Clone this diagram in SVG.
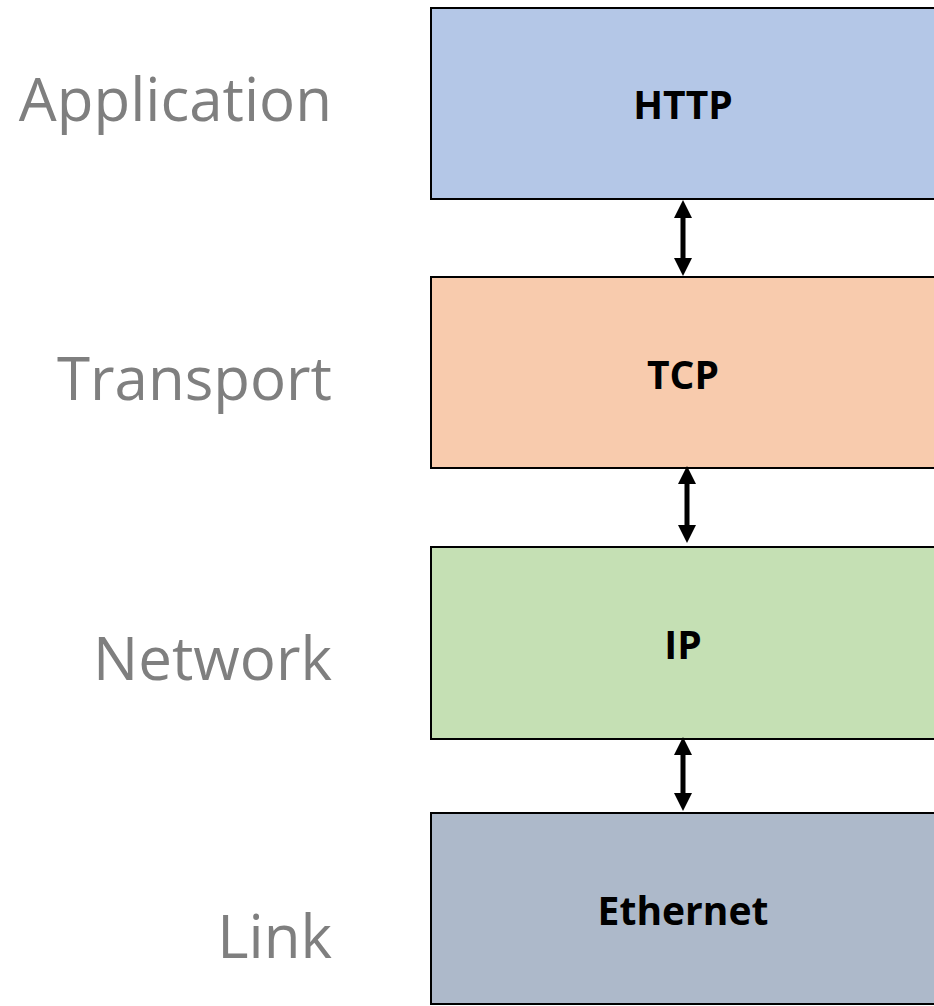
<svg xmlns="http://www.w3.org/2000/svg" width="934" height="1006" viewBox="0 0 934 1006">
<style>
.box{stroke:#000;stroke-width:2}
.lbl{font-family:"Open Sans","Liberation Sans",sans-serif;font-size:60px;fill:#7f7f7f;text-anchor:end}
.nm{font-family:"Open Sans","Liberation Sans",sans-serif;font-size:39px;font-weight:bold;fill:#000;text-anchor:middle}
.conn{fill:#000;stroke:none}
</style>
<text class="lbl" x="332" y="121">Application</text>
<text class="lbl" x="332" y="400">Transport</text>
<text class="lbl" x="332" y="680">Network</text>
<text class="lbl" x="332" y="958">Link</text>
<g id="http"><rect class="box" x="431" y="8" width="510" height="191" fill="#b4c7e7"/><text class="nm" x="683" y="119">HTTP</text></g>
<g id="tcp"><rect class="box" x="431" y="277" width="510" height="191" fill="#f8cbad"/><text class="nm" x="683" y="389">TCP</text></g>
<g id="ip"><rect class="box" x="431" y="547" width="510" height="192" fill="#c5e0b4"/><text class="nm" x="683" y="659">IP</text></g>
<g id="ethernet"><rect class="box" x="431" y="813" width="510" height="191" fill="#adb9ca"/><text class="nm" x="683" y="925">Ethernet</text></g>
<g id="connectors">
<path class="conn" d="M683,200 L692,218 L685.5,218 L685.5,258 L692,258 L683,276 L674,258 L680.5,258 L680.5,218 L674,218 z"/>
<path class="conn" d="M687,466 L696,484 L689.5,484 L689.5,525 L696,525 L687,543 L678,525 L684.5,525 L684.5,484 L678,484 z"/>
<path class="conn" d="M683,737 L692,755 L685.5,755 L685.5,793 L692,793 L683,811 L674,793 L680.5,793 L680.5,755 L674,755 z"/>
</g>
</svg>
